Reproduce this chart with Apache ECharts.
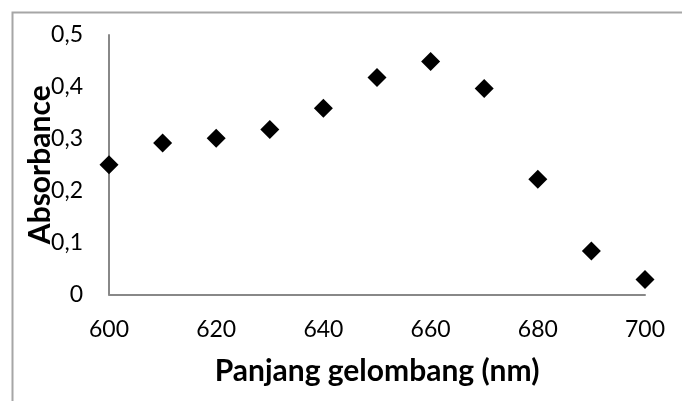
<!DOCTYPE html>
<html>
<head>
    <meta charset="utf-8">
    <title>Absorbance</title>
    <script src="https://cdn.jsdelivr.net/npm/echarts@6/dist/echarts.min.js"></script>
</head>
<body style="margin:0">
    <div id="main" style="width: 682px;height:401px;"></div>
    <script type="text/javascript">
    // panjang gelombang (nm) dan absorbansi
    var wavelength = [600, 610, 620, 630, 640, 650, 660, 670, 680, 690, 700];
    var absorbance = [0.25, 0.292, 0.301, 0.318, 0.359, 0.418, 0.449, 0.397, 0.222, 0.084, 0.029];

    var points = wavelength.map(function (w, i) { return [w, absorbance[i]]; });

    var myChart = echarts.init(document.getElementById('main'));

    var option = {
        animation: false,
        backgroundColor: '#fff',
        textStyle: { fontFamily: 'Lato' },
        graphic: [{
            type: 'rect',
            shape: { x: 12.5, y: 12.5, width: 700, height: 420 },
            style: { fill: 'none', stroke: '#a6a6a6', lineWidth: 2 },
            silent: true
        }],
        grid: { left: 109, right: 37, top: 35, bottom: 106.5 },
        xAxis: {
            type: 'value',
            min: 600,
            max: 700,
            interval: 20,
            name: 'Panjang gelombang (nm)',
            nameLocation: 'middle',
            nameGap: 62,
            nameMoveOverlap: false,
            nameTextStyle: { fontSize: 30, fontWeight: 'bold', color: '#000', fontFamily: 'Lato' },
            axisLine: { lineStyle: { color: '#888', width: 2 } },
            axisTick: { show: false },
            splitLine: { show: false },
            axisLabel: { fontSize: 23, color: '#000', margin: 24, fontFamily: 'Lato' }
        },
        yAxis: {
            type: 'value',
            min: 0,
            max: 0.5,
            interval: 0.1,
            name: 'Absorbance',
            nameLocation: 'middle',
            nameGap: 54,
            nameMoveOverlap: false,
            nameTextStyle: { fontSize: 30, fontWeight: 'bold', color: '#000', fontFamily: 'Lato' },
            axisLine: { show: true, lineStyle: { color: '#888', width: 2 } },
            axisTick: { show: false },
            splitLine: { show: false },
            axisLabel: {
                fontSize: 23, color: '#000', margin: 26, fontFamily: 'Lato',
                formatter: function (v) { return String(+v.toFixed(1)).replace('.', ','); }
            }
        },
        series: [{
            type: 'scatter',
            symbol: 'diamond',
            symbolSize: 19,
            itemStyle: { color: '#000', opacity: 1 },
            data: points
        }]
    };

    myChart.setOption(option);
    </script>
</body>
</html>
